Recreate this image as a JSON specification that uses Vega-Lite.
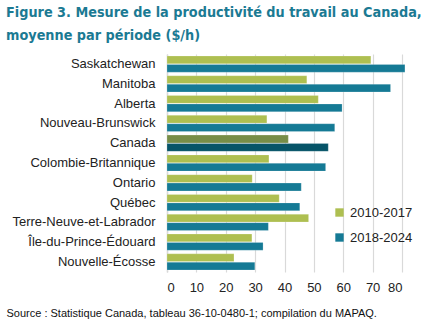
{
  "$schema": "https://vega.github.io/schema/vega-lite/v6.json",
  "width": 235,
  "height": 218,
  "autosize": {"type": "none"},
  "padding": {"left": 167, "top": 54, "right": 44, "bottom": 55},
  "background": "white",
  "title": {
    "text": ["Figure 3. Mesure de la productivité du travail au Canada,", "moyenne par période ($/h)"],
    "anchor": "start",
    "frame": "group",
    "dx": -161,
    "offset": 11,
    "font": "DejaVu Sans Condensed, Liberation Sans, sans-serif",
    "fontWeight": "bold",
    "fontSize": 14.3,
    "lineHeight": 23,
    "color": "#1B7A93"
  },
  "data": {
    "values": [
      {"region": "Saskatchewan", "periode": "2010-2017", "valeur": 69.4},
      {"region": "Saskatchewan", "periode": "2018-2024", "valeur": 81.0},
      {"region": "Manitoba", "periode": "2010-2017", "valeur": 47.6},
      {"region": "Manitoba", "periode": "2018-2024", "valeur": 76.1},
      {"region": "Alberta", "periode": "2010-2017", "valeur": 51.5},
      {"region": "Alberta", "periode": "2018-2024", "valeur": 59.6},
      {"region": "Nouveau-Brunswick", "periode": "2010-2017", "valeur": 34.0},
      {"region": "Nouveau-Brunswick", "periode": "2018-2024", "valeur": 57.1},
      {"region": "Canada", "periode": "2010-2017", "valeur": 41.3},
      {"region": "Canada", "periode": "2018-2024", "valeur": 54.9},
      {"region": "Colombie-Britannique", "periode": "2010-2017", "valeur": 34.7},
      {"region": "Colombie-Britannique", "periode": "2018-2024", "valeur": 54.0},
      {"region": "Ontario", "periode": "2010-2017", "valeur": 29.0},
      {"region": "Ontario", "periode": "2018-2024", "valeur": 45.7},
      {"region": "Québec", "periode": "2010-2017", "valeur": 38.2},
      {"region": "Québec", "periode": "2018-2024", "valeur": 45.2},
      {"region": "Terre-Neuve-et-Labrador", "periode": "2010-2017", "valeur": 48.2},
      {"region": "Terre-Neuve-et-Labrador", "periode": "2018-2024", "valeur": 34.5},
      {"region": "Île-du-Prince-Édouard", "periode": "2010-2017", "valeur": 28.9},
      {"region": "Île-du-Prince-Édouard", "periode": "2018-2024", "valeur": 32.7},
      {"region": "Nouvelle-Écosse", "periode": "2010-2017", "valeur": 22.8},
      {"region": "Nouvelle-Écosse", "periode": "2018-2024", "valeur": 29.9}
    ]
  },
  "mark": {"type": "bar", "stroke": "#ffffff", "strokeOpacity": 0.4, "strokeWidth": 0.5},
  "encoding": {
    "y": {
      "field": "region",
      "type": "nominal",
      "sort": null,
      "scale": {"paddingInner": 0.18, "paddingOuter": 0.1},
      "axis": {
        "title": null,
        "ticks": false,
        "labelPadding": 12,
        "labelFont": "Liberation Sans",
        "labelFontSize": 13,
        "labelColor": "#222222",
        "domainColor": "#d9d9d9",
        "domainWidth": 1.5
      }
    },
    "yOffset": {"field": "periode", "type": "nominal", "scale": {"paddingInner": 0.08}},
    "x": {
      "field": "valeur",
      "type": "quantitative",
      "scale": {"domain": [0, 80], "nice": false},
      "axis": {
        "values": [0, 10, 20, 30, 40, 50, 60, 70, 80],
        "domain": false,
        "ticks": false,
        "grid": true,
        "gridColor": "#d9d9d9",
        "gridWidth": 1.2,
        "labelPadding": 9,
        "labelFont": "Liberation Sans",
        "labelFontSize": 13,
        "labelColor": "#222222",
        "title": "Source : Statistique Canada, tableau 36-10-0480-1; compilation du MAPAQ.",
        "titleFont": "Liberation Sans",
        "titleFontSize": 11,
        "titleFontWeight": "normal",
        "titleColor": "#111111",
        "titleAnchor": "start",
        "titleAlign": "left",
        "titleBaseline": "middle",
        "titleX": -161,
        "titleY": 41
      }
    },
    "color": {
      "condition": [
        {"test": "datum.region === 'Canada' && datum.periode === '2010-2017'", "value": "#778D48"},
        {"test": "datum.region === 'Canada' && datum.periode === '2018-2024'", "value": "#065468"}
      ],
      "field": "periode",
      "type": "nominal",
      "scale": {"domain": ["2010-2017", "2018-2024"], "range": ["#AEBF51", "#157A95"]},
      "legend": {
        "title": null,
        "orient": "none",
        "legendX": 166,
        "legendY": 152,
        "symbolType": "square",
        "symbolSize": 70,
        "symbolStrokeWidth": 0,
        "rowPadding": 11,
        "labelFont": "Liberation Sans",
        "labelFontSize": 13,
        "labelColor": "#222222",
        "labelOffset": 4
      }
    }
  },
  "config": {"view": {"stroke": null}}
}
